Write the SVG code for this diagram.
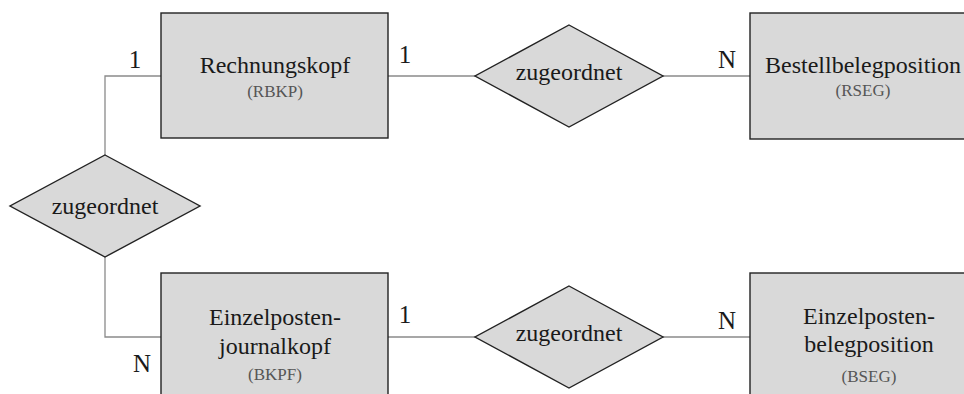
<svg xmlns="http://www.w3.org/2000/svg" width="964" height="394" viewBox="0 0 964 394">
  <style>
    .entity { fill: #d9d9d9; stroke: #222; stroke-width: 1.4; }
    .relation { fill: #d9d9d9; stroke: #222; stroke-width: 1.4; }
    .link { fill: none; stroke: #8a8a8a; stroke-width: 1.3; }
    text { fill: #1a1a1a; text-anchor: middle; }
    .name { font-size: 24px; }
    .code { font-size: 17px; fill: #555; }
    .card { font-size: 25px; }
  </style>

  <g font-family="Liberation Serif, serif">
  <g id="connectors">
    <polyline class="link" points="161,76 105,76 105,155"/>
    <line class="link" x1="388" y1="76" x2="475" y2="76"/>
    <line class="link" x1="663" y1="76" x2="750" y2="76"/>
    <polyline class="link" points="105,257 105,337 161,337"/>
    <line class="link" x1="388" y1="337" x2="475" y2="337"/>
    <line class="link" x1="663" y1="337" x2="750" y2="337"/>
  </g>

  <g id="cardinalities">
    <text class="card" x="135" y="68">1</text>
    <text class="card" x="405" y="63">1</text>
    <text class="card" x="727" y="68">N</text>
    <text class="card" x="142" y="372">N</text>
    <text class="card" x="405" y="323">1</text>
    <text class="card" x="727" y="329">N</text>
  </g>

  <g id="rechnungskopf">
    <rect class="entity" x="161" y="13" width="227" height="125"/>
    <text class="name" x="275" y="73">Rechnungskopf</text>
    <text class="code" x="275" y="97">(RBKP)</text>
  </g>

  <g id="bestellbelegposition">
    <rect class="entity" x="750" y="13" width="240" height="126"/>
    <text class="name" x="863" y="73">Bestellbelegposition</text>
    <text class="code" x="863" y="96">(RSEG)</text>
  </g>

  <g id="einzelposten-journalkopf">
    <rect class="entity" x="161" y="273" width="227" height="140"/>
    <text class="name" x="275" y="325">Einzelposten-</text>
    <text class="name" x="275" y="354">journalkopf</text>
    <text class="code" x="275" y="380">(BKPF)</text>
  </g>

  <g id="einzelposten-belegposition">
    <rect class="entity" x="750" y="273" width="240" height="140"/>
    <text class="name" x="869" y="324">Einzelposten-</text>
    <text class="name" x="869" y="352">belegposition</text>
    <text class="code" x="869" y="382">(BSEG)</text>
  </g>

  <g id="zugeordnet-links">
    <polygon class="relation" points="105,155 200,206 105,257 10,206"/>
    <text class="name" x="105" y="214">zugeordnet</text>
  </g>

  <g id="zugeordnet-oben">
    <polygon class="relation" points="569,25 663,76 569,127 475,76"/>
    <text class="name" x="569" y="80">zugeordnet</text>
  </g>

  <g id="zugeordnet-unten">
    <polygon class="relation" points="569,286 663,337 569,388 475,337"/>
    <text class="name" x="569" y="341">zugeordnet</text>
  </g>
  </g>
</svg>
